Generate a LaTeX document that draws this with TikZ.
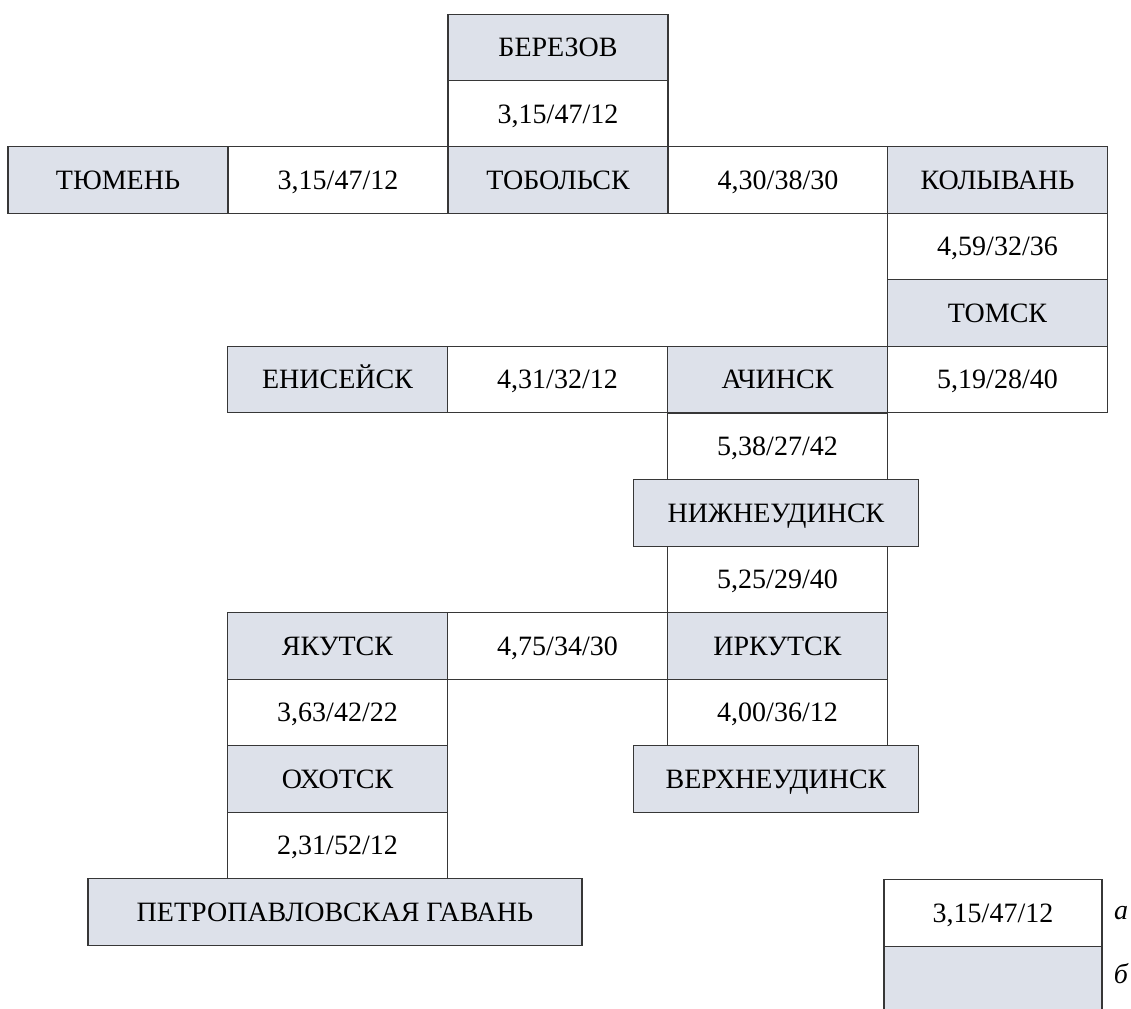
\documentclass[tikz,border=0pt]{standalone}
\usepackage{fontspec}
\setmainfont{Liberation Serif}
\definecolor{cellgrey}{RGB}{221,225,234}
\definecolor{edgegrey}{RGB}{55,55,55}
\begin{document}
\begin{tikzpicture}[x=0.75pt,y=-0.75pt,
  cell/.style={draw=edgegrey, line width=0.9pt, minimum width=165pt, minimum height=49.9pt,
               inner sep=0pt, text height=14pt, text depth=0pt,
               font=\fontsize{21}{24}\selectfont, anchor=center},
  city/.style={cell, fill=cellgrey},
  val/.style={cell, fill=white},
  wide/.style={minimum width=213.75pt},
  widest/.style={minimum width=370.5pt},
  lbl/.style={font=\fontsize{21}{24}\selectfont\itshape, inner sep=0pt, text height=10pt, text depth=0pt}
]
\useasboundingbox (0,0) rectangle (1131,1008);
\clip (0,0) rectangle (1131,1008);
\fill[white] (0,0) rectangle (1131,1008);
% top branch
\node[city] (berezov) at (558,47.5) {БЕРЕЗОВ};
\node[val] (v1) at (558,114) {3,15/47/12};
% main row
\node[city] (tyumen) at (118,180) {ТЮМЕНЬ};
\node[val] (v2) at (338,180) {3,15/47/12};
\node[city] (tobolsk) at (558,180) {ТОБОЛЬСК};
\node[val] (v3) at (778,180) {4,30/38/30};
\node[city] (kolyvan) at (997.5,180) {КОЛЫВАНЬ};
\node[val] (v4) at (997.5,246.5) {4,59/32/36};
\node[city] (tomsk) at (997.5,313) {ТОМСК};
% second row
\node[city] (eniseisk) at (337.5,379.5) {ЕНИСЕЙСК};
\node[val] (v5) at (557.5,379.5) {4,31/32/12};
\node[city] (achinsk) at (777.5,379.5) {АЧИНСК};
\node[val] (v6) at (997.5,379.5) {5,19/28/40};
\node[val] (v7) at (777.5,446.5) {5,38/27/42};
\node[city,wide] (nizhneudinsk) at (776,513) {НИЖНЕУДИНСК};
\node[val] (v8) at (777.5,579.5) {5,25/29/40};
% third row
\node[city] (yakutsk) at (337.5,646) {ЯКУТСК};
\node[val] (v9) at (557.5,646) {4,75/34/30};
\node[city] (irkutsk) at (777.5,646) {ИРКУТСК};
\node[val] (v10) at (337.5,712.5) {3,63/42/22};
\node[val] (v11) at (777.5,712.5) {4,00/36/12};
\node[city] (okhotsk) at (337.5,779) {ОХОТСК};
\node[city,wide] (verkhneudinsk) at (776,779) {ВЕРХНЕУДИНСК};
\node[val] (v12) at (337.5,845.5) {2,31/52/12};
\node[city,widest] (petropavlovsk) at (335,912) {ПЕТРОПАВЛОВСКАЯ ГАВАНЬ};
% legend
\node[val, minimum width=163.5pt] (lega) at (993,913) {3,15/47/12};
\node[city, minimum width=163.5pt] (legb) at (993,979.5) {};
\node[lbl] (la) at (1121,913) {а};
\node[lbl] (lb) at (1121,977) {б};
\end{tikzpicture}
\end{document}
